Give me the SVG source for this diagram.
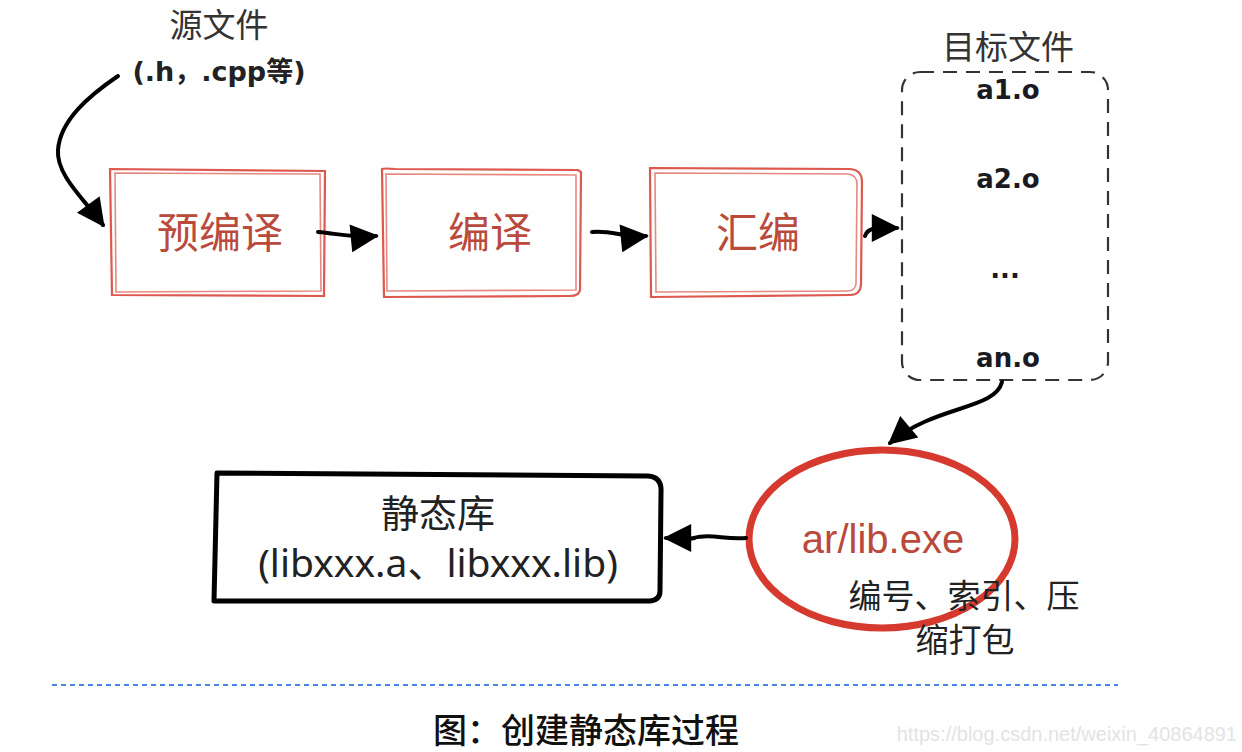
<svg xmlns="http://www.w3.org/2000/svg" width="1242" height="752" viewBox="0 0 1242 752">
<defs>
<style>
.cn{font-family:"Noto Sans CJK SC","Noto Sans",sans-serif}
.step{fill:#b94a3c;font-size:42px;text-anchor:middle}
.sk1{fill:none;stroke:#d9463b;stroke-width:2.2;opacity:.9}
.sk2{fill:none;stroke:#e06a60;stroke-width:1.6;opacity:.8}
.obj{font-family:"DejaVu Sans",Verdana,sans-serif;font-weight:bold;font-size:26px;fill:#1a1a22;text-anchor:middle}
.lbl{fill:#333;font-size:33px;text-anchor:middle}
.con{fill:none;stroke:#000;stroke-width:4;stroke-linecap:round}
</style>
<marker id="ah" viewBox="0 0 10 10" refX="9" refY="5" markerWidth="7.5" markerHeight="7" markerUnits="strokeWidth" orient="auto">
<path d="M0,0 L10,5 L0,10 Z" fill="#000"/>
</marker>
</defs>
<rect width="1242" height="752" fill="#fff"/>

<g id="source-label">
<text class="cn lbl" x="219" y="37">源文件</text>
<text x="219" y="81" font-family="'DejaVu Sans',Verdana,'Noto Sans CJK SC',sans-serif" font-weight="bold" font-size="27" fill="#222" text-anchor="middle">(.h，.cpp等)</text>
</g>

<g id="preprocess">
<path class="sk1" d="M110,169 L325,171 L324,296 L112,295 Z"/>
<path class="sk2" d="M115,173 L320,174 L321,291 L116,292 Z"/>
<text class="cn step" x="220" y="248">预编译</text>
</g>

<g id="compile">
<path class="sk1" d="M382,169 Q384,168 395,169 L578,170 L581,172 L580,290 Q579,296 570,296 L384,297 Z"/>
<path class="sk2" d="M386,174 L576,175 L576,290 L387,291 Z"/>
<text class="cn step" x="490" y="248">编译</text>
</g>

<g id="assemble">
<path class="sk1" d="M650,168 L850,169 Q862,170 862,182 L861,285 Q860,295 850,295 L651,297 Z"/>
<path class="sk2" d="M655,173 L848,174 Q857,175 857,184 L856,284 Q855,291 847,291 L656,292 Z"/>
<text class="cn step" x="758" y="248">汇编</text>
</g>

<g id="object-files">
<text class="cn lbl" x="1008" y="59">目标文件</text>
<rect x="902" y="72" width="206" height="308" rx="18" fill="none" stroke="#333" stroke-width="2.2" stroke-dasharray="14,9"/>
<text class="obj" x="1008" y="99">a1.o</text>
<text class="obj" x="1008" y="188">a2.o</text>
<text class="obj" x="1005" y="278">...</text>
<text class="obj" x="1008" y="367">an.o</text>
</g>

<g id="ar-tool">
<ellipse cx="882" cy="539" rx="133" ry="89" fill="none" stroke="#d63a2f" stroke-width="7"/>
<text x="883" y="553" font-family="Liberation Sans,Arial,sans-serif" font-size="40" fill="#b94a3c" text-anchor="middle">ar/lib.exe</text>
<text class="cn" x="964" y="608" font-size="33" fill="#222" text-anchor="middle">编号、索引、压</text>
<text class="cn" x="965" y="652" font-size="33" fill="#222" text-anchor="middle">缩打包</text>
</g>

<g id="static-lib">
<path d="M217,473 L648,476 Q662,477 661,492 L660,591 Q660,600 650,601 L214,601 Z" fill="none" stroke="#000" stroke-width="5" stroke-linejoin="round"/>
<text class="cn" x="438" y="527" font-size="38" fill="#222" text-anchor="middle">静态库</text>
<text x="438" y="577" font-family="'Noto Sans',sans-serif,'Noto Sans CJK SC'" font-size="39" fill="#222" text-anchor="middle">(libxxx.a、libxxx.lib)</text>
</g>

<g id="connectors">
<path class="con" d="M118,76 C90,95 60,120 58,150 C56,175 85,200 103,225" marker-end="url(#ah)"/>
<path class="con" d="M318,232 C340,234 355,238 376,236" marker-end="url(#ah)"/>
<path class="con" d="M592,232 C612,230 625,238 646,236" marker-end="url(#ah)"/>
<path class="con" d="M865,236 C868,226 880,228 897,228" marker-end="url(#ah)"/>
<path class="con" d="M1002,382 C995,410 935,405 890,443" marker-end="url(#ah)" stroke-width="3.5"/>
<path class="con" d="M746,538 C725,540 710,533 694,538 C684,541 676,538 666,538" marker-end="url(#ah)" stroke-width="3.5"/>
</g>

<g id="footer">
<line x1="52" y1="685" x2="1118" y2="685" stroke="#4a86e8" stroke-width="2" stroke-dasharray="5,4"/>
<text class="cn" x="586" y="743" font-size="34" font-weight="500" fill="#111" text-anchor="middle">图：创建静态库过程</text>
<text x="1237" y="741" font-family="'Liberation Sans Narrow','Liberation Sans',sans-serif" font-size="20" fill="#e3e3e3" text-anchor="end">https://blog.csdn.net/weixin_40864891</text>
</g>
</svg>
